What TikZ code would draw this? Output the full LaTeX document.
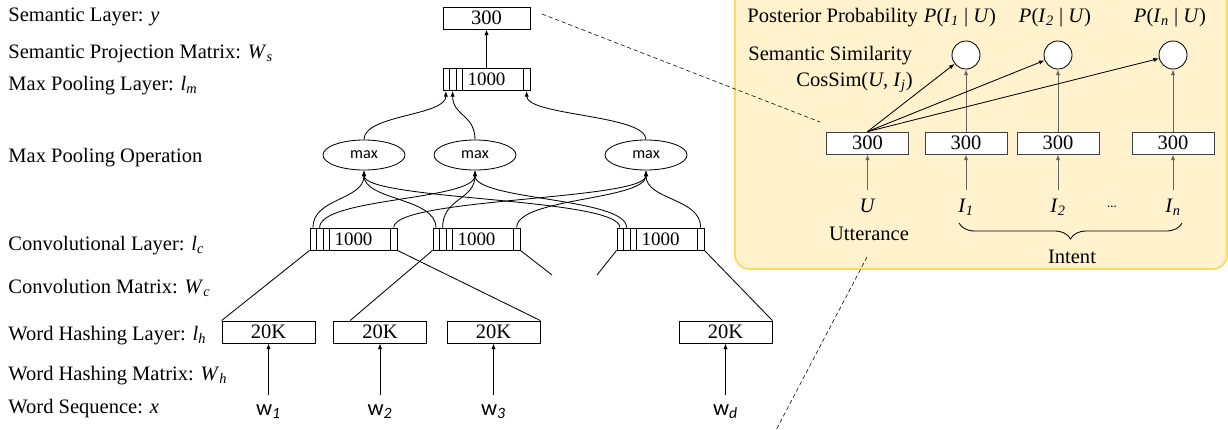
\documentclass[tikz,border=0pt]{standalone}
\usepackage{fontspec}
\setmainfont{Liberation Serif}
\newfontfamily\calibri{Carlito}
\usetikzlibrary{arrows.meta,shapes.geometric,calc,decorations.pathreplacing}
\definecolor{panelfill}{HTML}{FFF2CC}
\definecolor{paneledge}{HTML}{FFD966}
\newcommand{\isub}[2]{\textit{#1}\textsubscript{\textit{#2}}}

\begin{document}
\begin{tikzpicture}[x=0.025cm, y=-0.025cm, semithick,
  font=\fontsize{14.6}{17}\selectfont,
  >={Latex[length=4pt,width=3pt]},
  vecbox/.style={draw, rectangle, fill=white, inner sep=0pt, minimum height=0.55cm},
  convbox/.style={vecbox, minimum width=2.175cm, font=\fontsize{13.5}{16}\selectfont},
  hashbox/.style={vecbox, minimum width=2.325cm},
  intbox/.style={vecbox, minimum width=2.05cm, draw=black!75},
  maxop/.style={draw, ellipse, minimum width=2.05cm, minimum height=0.75cm, inner sep=0pt,
    font=\calibri\fontsize{11.5}{13}\selectfont},
  prob/.style={draw, circle, fill=white, minimum size=0.7cm, inner sep=0pt},
  lab/.style={anchor=base west, inner sep=0pt},
  wordin/.style={anchor=base, inner sep=6pt, font=\calibri\fontsize{16}{18}\selectfont},
  sym/.style={anchor=base, inner sep=6pt},
  zoomline/.style={densely dashed, thin},
  greyarrow/.style={->, draw=black!60},
]
\useasboundingbox (0,0) rectangle (1228,429);

% similarity panel on the right
\draw[fill=panelfill, draw=paneledge, line width=1.3pt, rounded corners=10pt] (735,-20) rectangle (1227,269);

% layer names
\node[lab] (ty) at (8,21) {Semantic Layer: \textit{y}};
\node[lab] (tws) at (8,58) {Semantic Projection Matrix: \isub{W}{s}};
\node[lab] (tlm) at (8,90) {Max Pooling Layer: \isub{l}{m}};
\node[lab] (tmax) at (8,162) {Max Pooling Operation};
\node[lab] (tlc) at (8,250) {Convolutional Layer: \isub{l}{c}};
\node[lab] (twc) at (8,293) {Convolution Matrix: \isub{W}{c}};
\node[lab] (tlh) at (8,340) {Word Hashing Layer: \isub{l}{h}};
\node[lab] (twh) at (8,380) {Word Hashing Matrix: \isub{W}{h}};
\node[lab] (tx) at (8,413) {Word Sequence: \textit{x}};

% semantic layer and max pooling layer
\node[vecbox, minimum width=2.175cm] (y) at (486.5,18) {300};
\node[convbox] (lm) at (486.5,79.5) {1000};
\draw[->] (lm.north) -- (y.south);

% max pooling operations
\node[maxop] (m1) at (364,155) {max};
\node[maxop] (m2) at (475,155) {max};
\node[maxop] (m3) at (646,155) {max};

% convolutional layer
\node[convbox] (c1) at (353.5,239) {1000};
\node[convbox] (c2) at (476.5,239) {1000};
\node[convbox] (c3) at (660.5,239) {1000};

% cells of the 1000-d vectors
\foreach \n in {lm,c1,c2,c3} {
  \foreach \dx in {6.7,13.4,20.1}
    \draw ($(\n.north west)+(\dx,0)$) -- ($(\n.south west)+(\dx,0)$);
  \draw ($(\n.north east)+(-7.5,0)$) -- ($(\n.south east)+(-7.5,0)$);
}

% max over the cells
\foreach \c in {c1,c2,c3} {
  \draw[->] ($(\c.north west)+(3.35,0)$) .. controls +(0,-30) and +(0,30) .. (m1.south);
  \draw[->] ($(\c.north west)+(10.05,0)$) .. controls +(0,-30) and +(0,30) .. (m2.south);
  \draw[->] ($(\c.north east)+(-3.75,0)$) .. controls +(0,-30) and +(0,30) .. (m3.south);
}
\draw[->] (m1.north) .. controls +(0,-25) and +(0,25) .. ($(lm.south west)+(3.35,0)$);
\draw[->] (m2.north) .. controls +(0,-25) and +(0,25) .. ($(lm.south west)+(10.05,0)$);
\draw[->] (m3.north) .. controls +(0,-25) and +(0,25) .. ($(lm.south east)+(-3.75,0)$);

% word hashing layer
\node[hashbox] (h1) at (268.5,332) {20K};
\node[hashbox] (h2) at (380,332) {20K};
\node[hashbox] (h3) at (493.5,332) {20K};
\node[hashbox] (hd) at (725.5,332) {20K};

% convolution windows
\coordinate (c2end) at (552,275);
\coordinate (c3end) at (597,275);
\draw (c1.south west) -- (h1.north west);
\draw (c1.south east) -- (h3.north east);
\draw (c2.south west) -- ($(h2.north west)+(17,0)$);
\draw (c2.south east) -- (c2end);
\draw (c3.south west) -- (c3end);
\draw (c3.south east) -- (hd.north east);

% word sequence
\node[wordin] (w1) at (268.5,415) {w\textsubscript{\itshape 1}};
\node[wordin] (w2) at (380,415) {w\textsubscript{\itshape 2}};
\node[wordin] (w3) at (493.5,415) {w\textsubscript{\itshape 3}};
\node[wordin] (wd) at (725.5,415) {w\textsubscript{\itshape d}};
\foreach \i in {1,2,3,d}
  \draw[->] (w\i.north) -- (h\i.south);

% posterior probabilities
\node[lab] (tpost) at (747,22) {Posterior Probability};
\node[anchor=base, inner sep=0pt] (tp1) at (960,22) {\textit{P}(\isub{I}{1} | \textit{U})};
\node[anchor=base, inner sep=0pt] (tp2) at (1055,22) {\textit{P}(\isub{I}{2} | \textit{U})};
\node[anchor=base, inner sep=0pt] (tpn) at (1170,22) {\textit{P}(\isub{I}{n} | \textit{U})};
\node[lab] (tsim) at (748,60) {Semantic Similarity};
\node[anchor=base east, inner sep=0pt] (tcos) at (913,86) {CosSim(\textit{U}, \isub{I}{j})};

\node[prob] (p1) at (966,55) {};
\node[prob] (p2) at (1058,55) {};
\node[prob] (pn) at (1173,55) {};

% utterance and intent vectors
\node[intbox] (u) at (867.5,143) {300};
\node[intbox] (i1) at (966,143) {300};
\node[intbox] (i2) at (1058,143) {300};
\node[intbox] (in) at (1173,143) {300};

\draw[greyarrow] (i1) -- (p1);
\draw[greyarrow] (i2) -- (p2);
\draw[greyarrow] (in) -- (pn);
\draw[->] (u.north) -- (p1);
\draw[->] (u.north) -- (p2);
\draw[->] (u.north) -- (pn);

\node[sym] (lu) at (867.5,212) {\textit{U}};
\node[sym] (li1) at (966,212) {\isub{I}{1}};
\node[sym] (li2) at (1058,212) {\isub{I}{2}};
\node[sym] (lin) at (1173,212) {\isub{I}{n}};
\node[font=\calibri\fontsize{9}{10}\selectfont] (dots) at (1112,207) {...};
\draw[greyarrow] (lu) -- (u);
\draw[greyarrow] (li1) -- (i1);
\draw[greyarrow] (li2) -- (i2);
\draw[greyarrow] (lin) -- (in);

\node[anchor=base, inner sep=0pt] (tutt) at (869,240) {Utterance};
\draw[decorate, decoration={brace, mirror, amplitude=0.4cm}] (959,223) -- (1182,223);
\node[anchor=base, inner sep=0pt] (tint) at (1072,263) {Intent};

% zoom lines
\coordinate (z1) at (542,14);
\coordinate (z2) at (820,122);
\coordinate (z3) at (867,257);
\coordinate (z4) at (775,432);
\draw[zoomline] (z1) -- (z2);
\draw[zoomline] (z3) -- (z4);
\end{tikzpicture}
\end{document}
